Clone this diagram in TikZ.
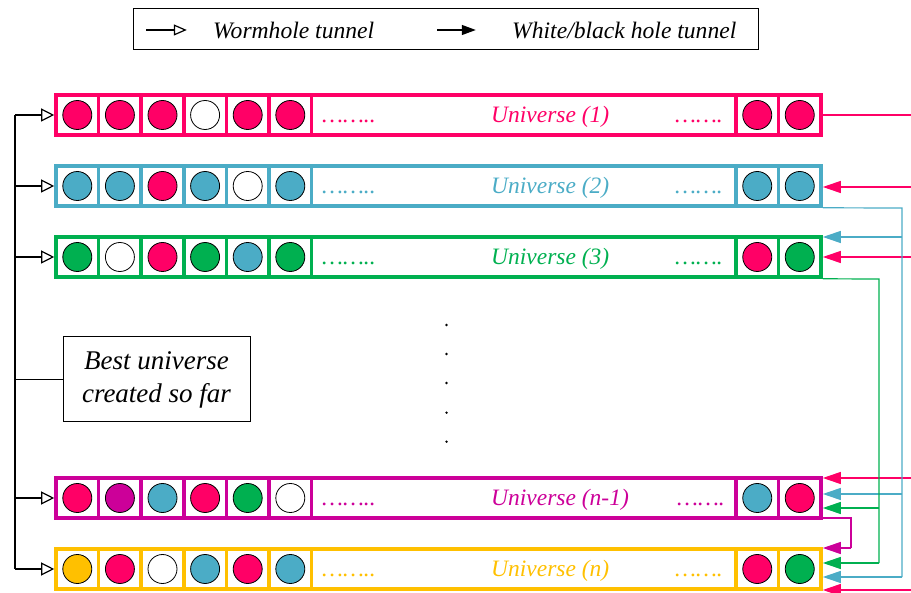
\documentclass[tikz,border=0pt]{standalone}
\usepackage{fontspec}
\setmainfont{Liberation Serif}
\usetikzlibrary{arrows.meta}
\definecolor{pinkc}{HTML}{FF0066}
\definecolor{bluec}{HTML}{4BACC6}
\definecolor{greenc}{HTML}{00B050}
\definecolor{magc}{HTML}{CC0099}
\definecolor{yelc}{HTML}{FFC000}
\tikzset{
  rowbox/.style={rectangle, line width=3.6pt, minimum width=765pt, minimum height=40pt, inner sep=0pt},
  divline/.style={line width=3.6pt},
  ball/.style={circle, draw=black, line width=0.8pt, minimum size=29pt, inner sep=0pt},
  unitext/.style={font=\itshape\fontsize{23.5}{28}\selectfont, inner sep=0pt, anchor=base west},
  legtext/.style={font=\itshape\fontsize{23.6}{28}\selectfont, inner sep=0pt, anchor=base west},
  wh/.style={draw=black, line width=1.2pt, -{Triangle[open, length=13pt, width=13pt, line width=1.2pt]}},
  bh/.style={line width=1.2pt, -{Triangle[length=18pt, width=12pt]}},
  lwh/.style={draw=black, line width=1.2pt, -{Triangle[open, length=13pt, width=11pt, line width=1.2pt]}},
  lbh/.style={draw=black, line width=1.2pt, -{Triangle[length=14pt, width=10pt]}},
  vdot/.style={circle, fill=black, inner sep=0pt, minimum size=2.6pt},
}
\newcommand\myrow[7]{%
  \node[rowbox, draw=#3] (#1) at (438.5,#2) {};
  \foreach \xx in {98.6,141.2,183.8,226.4,269,311.6,736,778.5}
    \draw[divline, #3] (\xx,#2-20) -- (\xx,#2+20);
  \foreach \cc [count=\i] in {#5}
    \node[ball, fill=\cc] (#1-\i) at ({56+42.6*(\i-0.5)},#2) {};
  \foreach \cc [count=\i] in {#6}
    \node[ball, fill=\cc] (#1-r\i) at ({736+42.5*(\i-0.5)},#2) {};
  \node[unitext, text=#3] (#1-lab) at (491,#2+7.7) {#4};
  \node[unitext, text=#3] (#1-dl) at (322,#2+7.7) {……..};
  \node[unitext, text=#3, anchor=base east] (#1-dr) at (#7,#2+7.7) {…….};
}
\begin{document}
\begin{tikzpicture}[x=1pt,y=-1pt]
\useasboundingbox (0,0) rectangle (911,593);
% legend
\node[draw=black, line width=1pt, minimum width=625pt, minimum height=41pt, inner sep=0pt] (leg) at (445.5,29.5) {};
\coordinate (la1) at (146,30);
\coordinate (la2) at (437,30);
\node[inner sep=0pt, minimum size=0pt] (lt1) at (187,30) {};
\node[inner sep=0pt, minimum size=0pt] (lt2) at (476,30) {};
\draw[lwh] (la1) -- (lt1);
\draw[lbh] (la2) -- (lt2);
\node[legtext] (legw) at (213,38.3) {Wormhole tunnel};
\node[legtext] (legb) at (512,38.3) {White/black hole tunnel};
% rows
\myrow{r1}{115}{pinkc}{Universe (1)}{pinkc,pinkc,pinkc,white,pinkc,pinkc}{pinkc,pinkc}{723}
\myrow{r2}{186}{bluec}{Universe (2)}{bluec,bluec,pinkc,bluec,white,bluec}{bluec,bluec}{723}
\myrow{r3}{257}{greenc}{Universe (3)}{greenc,white,pinkc,greenc,bluec,greenc}{pinkc,greenc}{723}
\myrow{rm}{498}{magc}{Universe (n-1)}{pinkc,magc,bluec,pinkc,greenc,white}{bluec,pinkc}{725}
\myrow{rn}{569}{yelc}{Universe (n)}{yelc,pinkc,white,bluec,pinkc,bluec}{pinkc,greenc}{723}
% vertical dots
\foreach \yy [count=\i] in {325,354,383,412.7,441.7}
  \node[vdot] (vd\i) at (446.5,\yy) {};
% best universe
\node[draw=black, line width=1pt, minimum width=187pt, minimum height=85pt, inner sep=0pt,
      align=center, font=\itshape\fontsize{27}{33}\selectfont] (best) at (156.5,379.5) {Best universe\\created so far};
% left bus
\coordinate (btop) at (15,115);
\coordinate (bbot) at (15,569);
\draw[black, line width=1.2pt] (btop) -- (bbot);
\draw[wh] (btop) -- (r1.west);
\draw[wh] (r2.west -| btop) -- (r2.west);
\draw[wh] (r3.west -| btop) -- (r3.west);
\draw[wh] (rm.west -| btop) -- (rm.west);
\draw[wh] (bbot) -- (rn.west);
\draw[black, line width=1.2pt] (best.west -| btop) -- (best.west);
% right side: pink free ends
\coordinate (p1) at (911,115);
\coordinate (p2) at (911,187);
\coordinate (p3) at (911,257);
\coordinate (p4) at (911,478);
\coordinate (p5) at (911,590);
\draw[pinkc, line width=1.2pt] (r1.east) -- (p1);
\draw[bh, pinkc] (p2) -- (r2.east |- p2);
\draw[bh, pinkc] (p3) -- (r3.east |- p3);
\draw[bh, pinkc] (p4) -- (rm.east |- p4);
\draw[bh, pinkc] (p5) -- (rn.east |- p5);
% blue bus
\coordinate (bb1) at (902,208);
\coordinate (bb2) at (902,577);
\coordinate (bq3) at (902,237);
\coordinate (bqm) at (902,494);
\draw[bluec, line width=1.2pt] (r2.south east) -- (bb1) -- (bb2);
\draw[bh, bluec] (bq3) -- (r3.east |- bq3);
\draw[bh, bluec] (bqm) -- (rm.east |- bqm);
\draw[bh, bluec] (bb2) -- (rn.east |- bb2);
% green bus
\coordinate (gb1) at (879,279);
\coordinate (gb2) at (879,563);
\coordinate (gqm) at (879,508);
\draw[greenc, line width=1.2pt] (r3.south east) -- (gb1) -- (gb2);
\draw[bh, greenc] (gqm) -- (rm.east |- gqm);
\draw[bh, greenc] (gb2) -- (rn.east |- gb2);
% magenta loop
\coordinate (m1) at (851,518);
\coordinate (m2) at (851,548);
\draw[magc, line width=1.2pt] (rm.east |- m1) -- (m1) -- (m2);
\draw[bh, magc] (m2) -- (rn.east |- m2);
\end{tikzpicture}
\end{document}
